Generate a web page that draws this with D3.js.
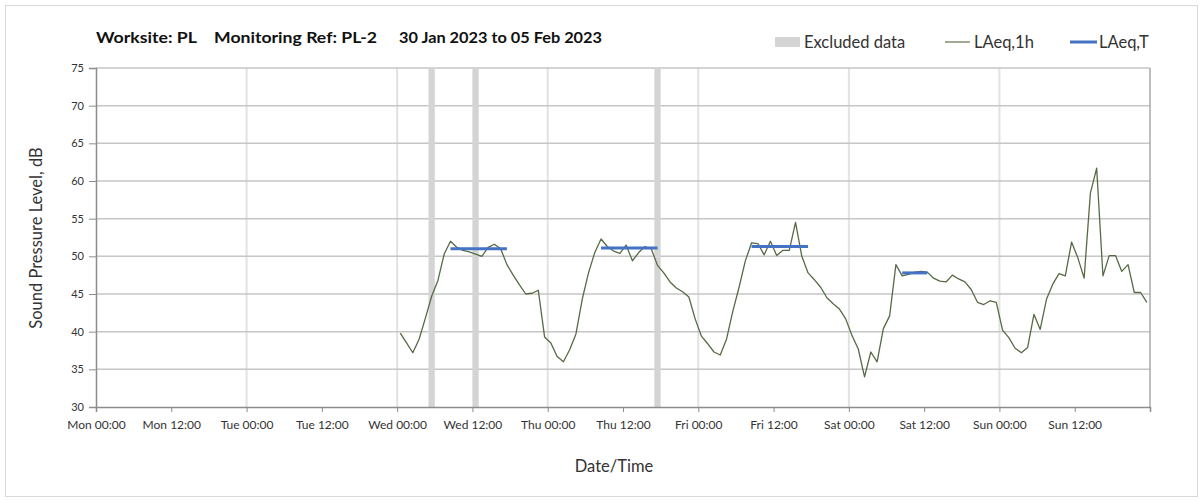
<!DOCTYPE html>
<html><head><meta charset="utf-8">
<script src="https://cdn.jsdelivr.net/npm/d3@7"></script>
<style>
body{margin:0;background:#fff;}
svg{display:block;font-family:Lato,"Open Sans",sans-serif;}
</style>
</head><body>
<svg id="chart" width="1203" height="501"></svg>
<script>
// ---------- data ----------
const titleParts = ["Worksite: PL", "Monitoring Ref: PL-2", "30 Jan 2023 to 05 Feb 2023"];
const legendNames = ["Excluded data", "LAeq,1h", "LAeq,T"];
const xDomain = ["2023-01-30T00:00:00", "2023-02-06T00:00:00"];
const yTicks = [30, 35, 40, 45, 50, 55, 60, 65, 70, 75];

// hourly LAeq,1h, first value centred on Wed 01 Feb 00:30, one per hour
const laeq1hStart = "2023-02-01T00:30:00";
const laeq1h = [
  39.8, 38.5, 37.2, 39.0, 41.8, 44.7, 46.8, 50.3, 52.0, 51.2, 50.8, 50.6,
  50.3, 50.0, 51.2, 51.6, 51.0, 48.9, 47.5, 46.2, 45.0, 45.1, 45.5, 39.3,
  38.5, 36.7, 36.0, 37.6, 39.7, 44.3, 47.8, 50.5, 52.3, 51.3, 50.7, 50.4,
  51.5, 49.4, 50.5, 51.3, 51.0, 48.8, 47.8, 46.6, 45.8, 45.3, 44.6, 41.7,
  39.4, 38.4, 37.3, 36.9, 39.0, 42.7, 45.9, 49.4, 51.8, 51.7, 50.2, 52.0,
  50.1, 50.8, 50.8, 54.5, 50.0, 47.8, 46.9, 45.9, 44.5, 43.7, 43.0, 41.7,
  39.5, 37.7, 34.0, 37.3, 36.0, 40.4, 42.1, 48.9, 47.4, 47.6, 47.9, 48.0,
  47.9, 47.1, 46.7, 46.6, 47.5, 47.0, 46.6, 45.6, 43.9, 43.6, 44.1, 43.9,
  40.2, 39.2, 37.8, 37.2, 37.9, 42.3, 40.3, 44.3, 46.3, 47.7, 47.4, 51.9,
  49.8, 47.1, 58.4, 61.7, 47.4, 50.1, 50.1, 48.0, 48.9, 45.2, 45.2, 43.9
];

// LAeq,T periods
const laeqTFrom = ["2023-02-01T08:30:00", "2023-02-02T08:30:00", "2023-02-03T08:30:00", "2023-02-04T08:30:00"];
const laeqTTo   = ["2023-02-01T17:30:00", "2023-02-02T17:30:00", "2023-02-03T17:30:00", "2023-02-04T12:30:00"];
const laeqT     = [51.0, 51.1, 51.3, 47.8];

// excluded periods
const excludedFrom = ["2023-02-01T05:00:00", "2023-02-01T12:00:00", "2023-02-02T17:00:00"];
const excludedTo   = ["2023-02-01T06:00:00", "2023-02-01T13:00:00", "2023-02-02T18:00:00"];

// ---------- chart ----------
const svg = d3.select("#chart");
const L = 96, R = 1150, T = 68, B = 407;

const x = d3.scaleTime().domain(xDomain.map(d => new Date(d))).range([L, R]);
const y = d3.scaleLinear().domain([30, 75]).range([B, T]);

// outer frame
svg.append("rect").attr("x", 5.5).attr("y", 5.5).attr("width", 1192).attr("height", 491)
  .attr("fill", "#fff").attr("stroke", "#d9d9d9");

// vertical gridlines (daily)
const days = d3.timeDay.range(x.domain()[0], x.domain()[1]).slice(1);
svg.append("g").selectAll("line").data(days).join("line")
  .attr("x1", d => x(d)).attr("x2", d => x(d)).attr("y1", T).attr("y2", B)
  .attr("stroke", "#e2e2e2").attr("stroke-width", 2);

// horizontal gridlines
svg.append("g").selectAll("line").data(yTicks.slice(1)).join("line")
  .attr("x1", L).attr("x2", R).attr("y1", d => y(d)).attr("y2", d => y(d))
  .attr("stroke", "#c6c6c6").attr("stroke-width", 1.5);

// excluded bands
const excl = excludedFrom.map((f, i) => ({from: new Date(f), to: new Date(excludedTo[i])}));
svg.append("g").selectAll("rect").data(excl).join("rect")
  .attr("x", d => x(d.from)).attr("width", d => x(d.to) - x(d.from))
  .attr("y", T).attr("height", B - T).attr("fill", "#d4d4d4");

// right border
svg.append("line").attr("x1", R).attr("x2", R).attr("y1", T).attr("y2", B)
  .attr("stroke", "#a8a8a8").attr("stroke-width", 1.5);

// y axis
const yAxis = svg.append("g").attr("transform", `translate(${L},0)`)
  .call(d3.axisLeft(y).tickValues(yTicks).tickSize(7).tickPadding(5));
yAxis.select(".domain").attr("stroke", "#8c8c8c").attr("stroke-width", 1.5);
yAxis.selectAll(".tick line").attr("stroke", "#8c8c8c");
yAxis.selectAll(".tick text").attr("fill", "#333").style("font-size", "11px")
  .style("font-family", "Lato, sans-serif");

// x axis
const xTicks = d3.timeHour.every(12).range(x.domain()[0], d3.timeHour.offset(x.domain()[1], 1));
const fmt = d3.timeFormat("%a %H:%M");
const xAxis = svg.append("g").attr("transform", `translate(0,${B})`)
  .call(d3.axisBottom(x).tickValues(xTicks).tickSize(5).tickPadding(8)
    .tickFormat((d, i) => i === xTicks.length - 1 ? "" : fmt(d)));
xAxis.select(".domain").attr("stroke", "#8c8c8c").attr("stroke-width", 1.5);
xAxis.selectAll(".tick line").attr("stroke", "#8c8c8c");
xAxis.selectAll(".tick text").attr("fill", "#333").style("font-size", "12px")
  .style("font-family", "Lato, sans-serif");

// LAeq,1h line
const t0 = new Date(laeq1hStart);
const pts = laeq1h.map((v, i) => ({t: d3.timeHour.offset(t0, i), v}));
svg.append("path").datum(pts)
  .attr("fill", "none").attr("stroke", "#566b45").attr("stroke-width", 1.3)
  .attr("stroke-linejoin", "round")
  .attr("d", d3.line().x(d => x(d.t)).y(d => y(d.v)));

// LAeq,T segments
const segs = laeqT.map((v, i) => ({from: new Date(laeqTFrom[i]), to: new Date(laeqTTo[i]), v}));
svg.append("g").selectAll("line").data(segs).join("line")
  .attr("x1", d => x(d.from)).attr("x2", d => x(d.to))
  .attr("y1", d => y(d.v)).attr("y2", d => y(d.v))
  .attr("stroke", "#4472c4").attr("stroke-width", 3);

// title
const title = svg.append("text").attr("y", 43).attr("fill", "#111")
  .style("font-size", "16px").style("font-weight", "bold");
const titleX = [96, 214, 399];
const titleW = [101, 163, 203];
titleParts.forEach((p, i) => title.append("tspan").attr("x", titleX[i])
  .attr("textLength", titleW[i]).attr("lengthAdjust", "spacingAndGlyphs").text(p));

// legend
const lg = svg.append("g").style("font-size", "16.5px").attr("fill", "#333");
lg.append("rect").attr("x", 775).attr("y", 37).attr("width", 25).attr("height", 10).attr("fill", "#d4d4d4");
lg.append("text").attr("x", 804).attr("y", 47.5).text(legendNames[0]);
lg.append("line").attr("x1", 945).attr("x2", 970).attr("y1", 42).attr("y2", 42)
  .attr("stroke", "#7f9070").attr("stroke-width", 1.5);
lg.append("text").attr("x", 974).attr("y", 47.5).text(legendNames[1]);
lg.append("line").attr("x1", 1070).attr("x2", 1097).attr("y1", 42).attr("y2", 42)
  .attr("stroke", "#4472c4").attr("stroke-width", 3);
lg.append("text").attr("x", 1099).attr("y", 47.5).text(legendNames[2]);

// axis titles
svg.append("text").attr("transform", "translate(42,238) rotate(-90)")
  .attr("text-anchor", "middle").attr("fill", "#333").style("font-size", "16.5px")
  .text("Sound Pressure Level, dB");
svg.append("text").attr("x", 614).attr("y", 472).attr("text-anchor", "middle")
  .attr("fill", "#333").style("font-size", "16.5px").text("Date/Time");
</script>
</body></html>
